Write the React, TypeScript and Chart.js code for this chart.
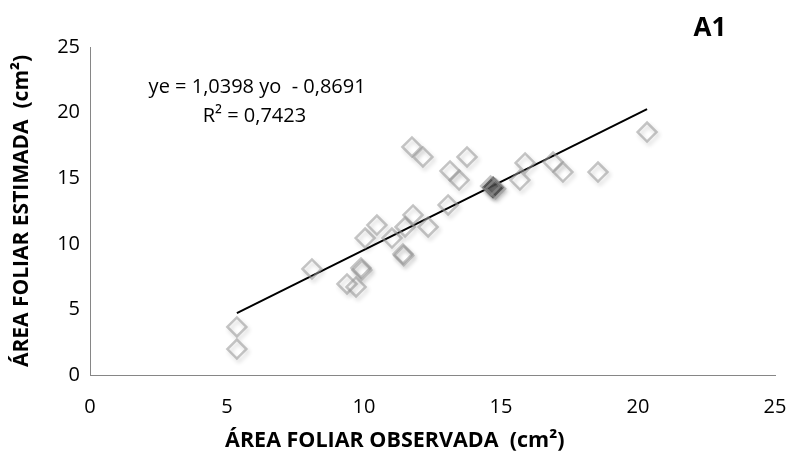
import React, { useEffect, useRef } from "react";
import { Chart, registerables } from "chart.js";

Chart.register(...registerables);

const observed = [
  5.36, 5.36, 8.1, 9.38, 9.71, 9.89, 9.92, 10.04, 10.47, 11.02, 11.42, 11.45, 11.5, 11.79, 12.34,
  11.75, 12.15, 13.07, 13.14, 13.47, 13.76, 14.62, 14.8, 15.88, 15.69, 16.9, 17.26, 18.54, 20.33,
];
const estimated = [
  3.66, 1.98, 8.08, 6.94, 6.71, 8.16, 8.0, 10.44, 11.43, 10.44, 9.22, 9.1, 11.28, 12.2, 11.28,
  17.38, 16.62, 12.96, 15.55, 14.86, 16.62, 14.4, 14.2, 16.16, 14.86, 16.23, 15.47, 15.47, 18.52,
];
// clustered (overlapping) observations that render as a dark marker
const clusterObserved = [14.71];
const clusterEstimated = [14.3];
const trendX = [5.36, 20.33];
const trendY = [4.71, 20.27];
const tickValues = [0, 5, 10, 15, 20, 25];
const equationLines = ["ye = 1,0398 yo  - 0,8691", "R² = 0,7423"];
const equationPos = [
  [6.1, 21.95],
  [6.0, 19.74],
];
const panelLabel = "A1";
const xTitle = "ÁREA FOLIAR OBSERVADA  (cm²)";
const yTitle = "ÁREA FOLIAR ESTIMADA  (cm²)";

const FONT = "'Open Sans', 'Noto Sans', sans-serif";

export default function App() {
  const ref = useRef<HTMLCanvasElement | null>(null);
  useEffect(() => {
    if (!ref.current) return;
    const shadowPlugin = {
      id: "shadowPts",
      beforeDatasetDraw(chart: any, args: any) {
        if (args.index === 0 || args.index === 1) {
          const ctx = chart.ctx;
          ctx.save();
          ctx.shadowColor = "rgba(0,0,0,0.28)";
          ctx.shadowBlur = 4;
          ctx.shadowOffsetX = 2;
          ctx.shadowOffsetY = 3;
        }
      },
      afterDatasetDraw(chart: any, args: any) {
        if (args.index === 0 || args.index === 1) chart.ctx.restore();
      },
    };
    const textPlugin = {
      id: "texts",
      afterDraw(chart: any) {
        const ctx = chart.ctx;
        const xs = chart.scales.x;
        const ys = chart.scales.y;
        const ca = chart.chartArea;
        ctx.save();
        ctx.fillStyle = "#000";
        ctx.textAlign = "center";
        ctx.textBaseline = "middle";
        ctx.font = `20px ${FONT}`;
        equationLines.forEach((t, i) => {
          ctx.fillText(t, xs.getPixelForValue(equationPos[i][0]), ys.getPixelForValue(equationPos[i][1]));
        });
        ctx.font = `bold 26px ${FONT}`;
        ctx.fillText(panelLabel, ca.right - 65, 29);
        ctx.font = `bold 21.5px ${FONT}`;
        ctx.fillText(xTitle, ca.left + (ca.right - ca.left) * 0.445, 441);
        ctx.restore();
      },
    };
    const chart = new Chart(ref.current, {
      type: "scatter",
      data: {
        datasets: [
          {
            data: observed.map((x, i) => ({ x, y: estimated[i] })),
            pointStyle: "rectRot",
            pointRadius: 9.5,
            pointBorderWidth: 2.5,
            pointBackgroundColor: "rgba(0,0,0,0)",
            pointBorderColor: "rgba(150,150,150,0.55)",
          },
          {
            data: clusterObserved.map((x, i) => ({ x, y: clusterEstimated[i] })),
            pointStyle: "rectRot",
            pointRadius: 9.5,
            pointBorderWidth: 2.5,
            pointBackgroundColor: "rgba(90,90,90,0.85)",
            pointBorderColor: "rgba(80,80,80,0.85)",
          },
          {
            type: "line",
            data: trendX.map((x, i) => ({ x, y: trendY[i] })),
            borderColor: "#000",
            borderWidth: 2,
            pointRadius: 0,
            fill: false,
          },
        ],
      },
      options: {
        animation: false,
        responsive: false,
        layout: { padding: { top: 47, right: 12, left: 9, bottom: 0 } },
        plugins: { legend: { display: false }, tooltip: { enabled: false } },
        scales: {
          x: {
            type: "linear",
            min: 0,
            max: 25,
            afterBuildTicks(s: any) {
              s.ticks = tickValues.map((v) => ({ value: v }));
            },
            afterFit(s: any) {
              s.height = 80;
              s.paddingLeft = 0;
              s.paddingRight = 0;
            },
            grid: { display: false, drawTicks: false },
            border: { color: "#868686", width: 1 },
            ticks: { color: "#000", font: { family: FONT, size: 20 }, padding: 20 },
            title: { display: false },
          },
          y: {
            type: "linear",
            min: 0,
            max: 25,
            afterBuildTicks(s: any) {
              s.ticks = tickValues.map((v) => ({ value: v }));
            },
            afterFit(s: any) {
              s.width = 81;
              s.paddingTop = 0;
              s.paddingBottom = 0;
            },
            grid: { display: false, drawTicks: false },
            border: { color: "#868686", width: 1 },
            ticks: { color: "#000", font: { family: FONT, size: 20 }, padding: 10 },
            title: {
              display: true,
              text: yTitle,
              color: "#000",
              font: { family: FONT, size: 21, weight: "bold" },
              padding: { top: 0, bottom: 0 },
            },
          },
        },
      },
      plugins: [shadowPlugin, textPlugin],
    });
    return () => chart.destroy();
  }, []);
  return (
    <div style={{ position: "absolute", left: 0, top: 0, width: 787, height: 455, background: "#fff" }}>
      <canvas ref={ref} width={787} height={455} style={{ width: 787, height: 455 }} />
    </div>
  );
}
